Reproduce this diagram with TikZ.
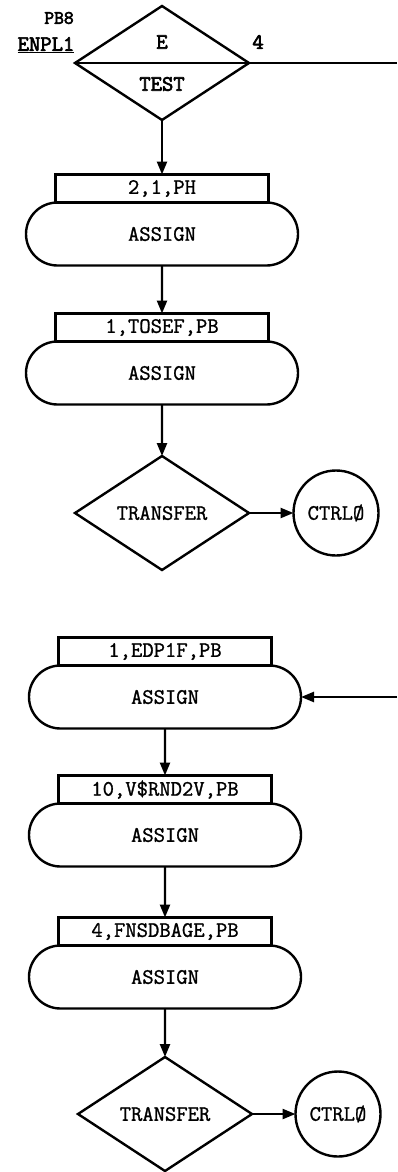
\documentclass[tikz,border=0pt]{standalone}
\usepackage{fontspec}
\setmonofont{Latin Modern Mono}[FakeBold=1.2]
\newfontfamily\tybold{Latin Modern Mono}[FakeBold=3]
\usetikzlibrary{arrows.meta,positioning,shapes.geometric,shapes.misc}
\begin{document}
\begin{tikzpicture}[x=1pt,y=-1pt,line width=2.4pt,font=\ttfamily\fontsize{22}{25}\selectfont,
dec/.style={draw,diamond,aspect=1.5,minimum width=174pt,minimum height=114pt,inner sep=0pt,outer sep=0pt},
asg/.style={draw,rounded rectangle,minimum width=272pt,minimum height=63pt,inner sep=0pt,outer sep=0pt},
tag/.style={draw,rectangle,minimum width=213pt,minimum height=28pt,inner sep=0pt,outer sep=0pt},
ctrl/.style={draw,circle,minimum size=85pt,inner sep=0pt,outer sep=0pt},
hd/.style={font=\tybold\fontsize{22}{25}\selectfont},
arr/.style={-{Triangle[length=13pt,width=10pt]}}]
\useasboundingbox (0,0) rectangle (397,1172);
\node[dec] (test) at (162,63) {};
\node[hd] (e) at (162,42) {E};
\node[hd] (tst) at (162,84) {TEST};
\node[hd] (four) at (258,42) {4};
\node[hd,font=\tybold\fontsize{19}{22}\selectfont] (pbe) at (59,18) {PB8};
\node[hd] (enpl) at (46,45) {\underline{ENPL1}};
\coordinate (out1) at (397,63);
\node[asg] (a1) at (162,234) {ASSIGN};
\node[tag,above=0pt of a1] (t1) {2,1,PH};
\node[asg] (a2) at (162,373) {ASSIGN};
\node[tag,above=0pt of a2] (t2) {1,TOSEF,PB};
\node[dec] (x1) at (162,513) {TRANSFER};
\node[ctrl] (c1) at (336,513) {CTRLØ};
\node[asg] (a3) at (165,697) {ASSIGN};
\node[tag,above=0pt of a3] (t3) {1,EDP1F,PB};
\coordinate (in3) at (397,697);
\node[asg] (a4) at (165,835) {ASSIGN};
\node[tag,above=0pt of a4] (t4) {10,V\$RND2V,PB};
\node[asg] (a5) at (165,977) {ASSIGN};
\node[tag,above=0pt of a5] (t5) {4,FNSDBAGE,PB};
\node[dec] (x2) at (165,1114) {TRANSFER};
\node[ctrl] (c2) at (338,1114) {CTRLØ};
\draw (test.west)--(test.east)--(out1);
\draw[arr](test)--(t1);\draw[arr](a1)--(t2);\draw[arr](a2)--(x1);\draw[arr](x1)--(c1);
\draw[arr](in3)--(a3.east);\draw[arr](a3)--(t4);\draw[arr](a4)--(t5);\draw[arr](a5)--(x2);\draw[arr](x2)--(c2);
\end{tikzpicture}
\end{document}
